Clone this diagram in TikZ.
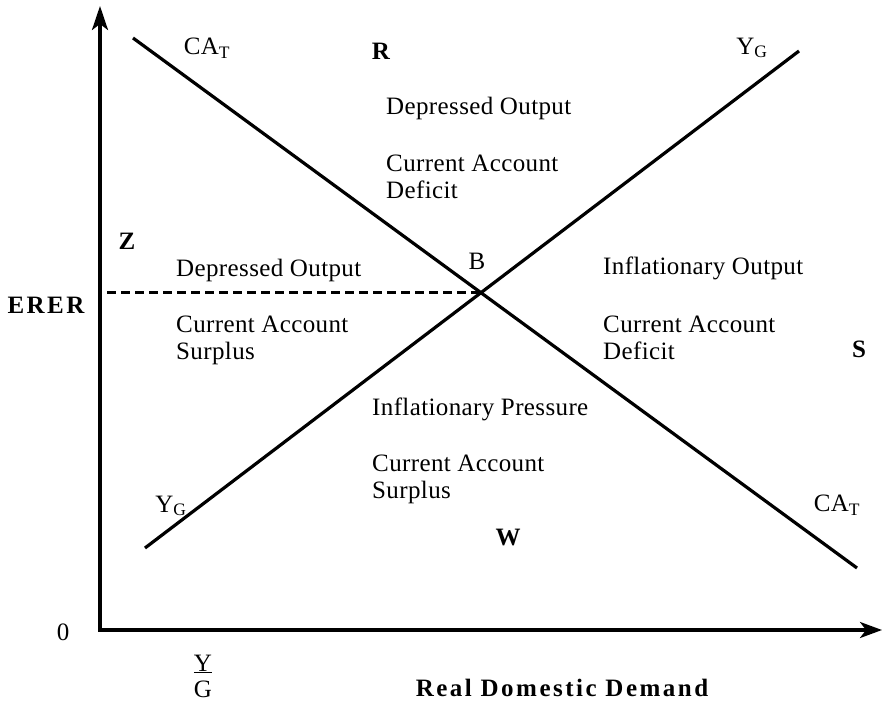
\documentclass[tikz,border=0pt]{standalone}
\usepackage{fontspec}
\setmainfont{Liberation Serif}[LetterSpace=1.5,BoldFeatures={LetterSpace=10}]
\usetikzlibrary{arrows.meta}

\begin{document}
\begin{tikzpicture}[x=1pt,y=-1pt,
  curve/.style={line width=3.2pt},
  lbl/.style={anchor=west,align=left,inner sep=0pt,font=\fontsize{25}{27}\selectfont},
  tag/.style={inner sep=0pt,font=\fontsize{25}{27}\selectfont},
  region/.style={inner sep=0pt,font=\fontsize{25}{27}\selectfont\bfseries}]
  \useasboundingbox (0,0) rectangle (883,708);
  % axes
  \coordinate (O) at (100,630);
  \coordinate (ytop) at (100,6);
  \coordinate (xend) at (882,630);
  \draw[line width=3.2pt, line join=miter,
    {Stealth[length=24pt,width=16pt,inset=6pt]}-{Stealth[length=22pt,width=16pt,inset=6pt]}]
    (ytop) -- (O) -- (xend);
  \node[tag] (zero) at (63,632) {0};
  \node[region, font=\fontsize{25}{27}\selectfont\bfseries\addfontfeatures{LetterSpace=3}] (erer) at (46,305) {ERER};
  \node[tag, align=center, font=\fontsize{25}{26}\selectfont] (ratio) at (203,676) {\underline{Y}\\G};
  \node[region] (xlab) at (562,688) {Real Domestic Demand};
  % CA_T and Y_G schedules
  \coordinate (ca1) at (133,38);
  \coordinate (ca2) at (857,568);
  \coordinate (yg1) at (145,548);
  \coordinate (yg2) at (799,51);
  \draw[curve] (ca1) -- (ca2);
  \draw[curve] (yg1) -- (yg2);
  \coordinate (B) at (intersection of ca1--ca2 and yg1--yg2);
  % equilibrium ERER
  \draw[line width=2.6pt, dash pattern=on 9pt off 5pt] ([xshift=7pt]O |- B) -- (B);
  \node[tag] (blab) at (477,261) {B};
  \node[tag] (catop) at (207,48) {CA\textsubscript{T}};
  \node[tag] (ygtop) at (752,48) {Y\textsubscript{G}};
  \node[tag] (ygbot) at (171,506) {Y\textsubscript{G}};
  \node[tag] (cabot) at (837,505) {CA\textsubscript{T}};
  % zones
  \node[region] (R) at (381,51) {R};
  \node[region] (Z) at (127,241) {Z};
  \node[region] (S) at (859,349) {S};
  \node[region] (W) at (508,538) {W};
  \node[lbl] (topa) at (386,108) {Depressed Output};
  \node[lbl] (topb) at (386,177) {Current Account\\Deficit};
  \node[lbl] (lefta) at (176,270) {Depressed Output};
  \node[lbl] (leftb) at (176,340) {Current Account\\Surplus};
  \node[lbl] (righta) at (603,268) {Inflationary Output};
  \node[lbl] (rightb) at (603,338) {Current Account\\Deficit};
  \node[lbl] (bota) at (372,409) {Inflationary Pressure};
  \node[lbl] (botb) at (372,479) {Current Account\\Surplus};
\end{tikzpicture}
\end{document}
